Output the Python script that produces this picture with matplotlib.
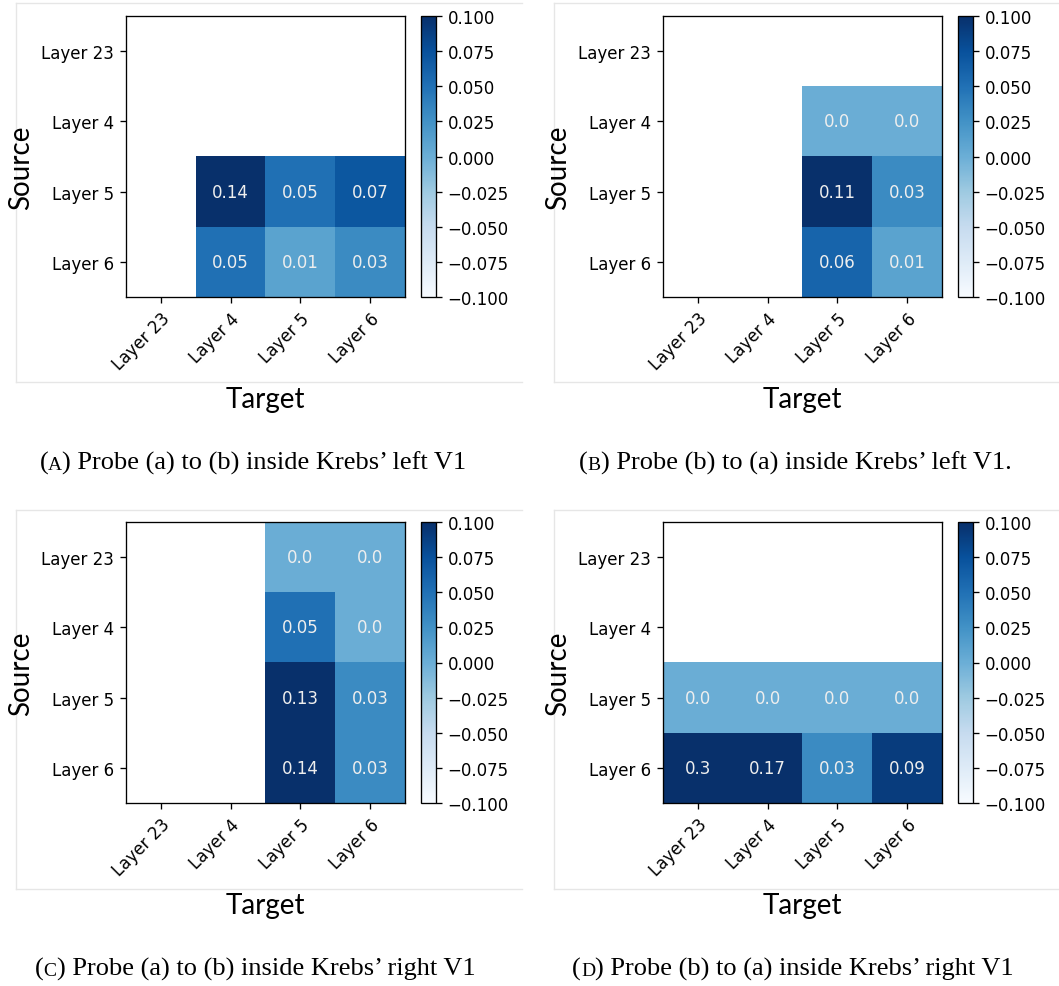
import numpy as np
import matplotlib
matplotlib.use("Agg")
import matplotlib.pyplot as plt
from matplotlib.lines import Line2D
from matplotlib.transforms import IdentityTransform

plt.rcParams["font.family"] = "DejaVu Sans"
plt.rcParams["axes.linewidth"] = 0.95

nan = np.nan

layers = ["Layer 23", "Layer 4", "Layer 5", "Layer 6"]

# rows = source layer, columns = target layer
left_a_to_b = [
    [nan, nan, nan, nan],
    [nan, nan, nan, nan],
    [nan, 0.14, 0.05, 0.07],
    [nan, 0.05, 0.01, 0.03],
]
left_b_to_a = [
    [nan, nan, nan, nan],
    [nan, nan, 0.0, 0.0],
    [nan, nan, 0.11, 0.03],
    [nan, nan, 0.06, 0.01],
]
right_a_to_b = [
    [nan, nan, 0.0, 0.0],
    [nan, nan, 0.05, 0.0],
    [nan, nan, 0.13, 0.03],
    [nan, nan, 0.14, 0.03],
]
right_b_to_a = [
    [nan, nan, nan, nan],
    [nan, nan, nan, nan],
    [0.0, 0.0, 0.0, 0.0],
    [0.3, 0.17, 0.03, 0.09],
]

panel_letters = ["A", "B", "C", "D"]
panel_captions = [
    ") Probe (a) to (b) inside Krebs\u2019 left V1",
    ") Probe (b) to (a) inside Krebs\u2019 left V1.",
    ") Probe (a) to (b) inside Krebs\u2019 right V1",
    ") Probe (b) to (a) inside Krebs\u2019 right V1",
]
cbar_ticks = [-0.1, -0.075, -0.05, -0.025, 0.0, 0.025, 0.05, 0.075, 0.1]

W, H = 1059, 987


def box(x0, y0, x1, y1):
    # pixel box (top-left origin) -> figure fraction rect
    return [x0 / W, 1 - y1 / H, (x1 - x0) / W, (y1 - y0) / H]


def frame_lines(fig, x0, y0, x1, y1):
    color = "#e6e6e6"
    segs = [((x0, x1), (y0, y0)), ((x0, x0), (y0, y1)), ((x0, x1), (y1, y1))]
    for xs, ys in segs:
        fig.add_artist(Line2D([x / W for x in xs], [1 - y / H for y in ys],
                              color=color, lw=1.0))


def draw_panel(fig, data, dx, dy):
    data = np.array(data, dtype=float)
    ax = fig.add_axes(box(126 + dx, 17 + dy, 405 + dx, 298 + dy))
    im = ax.imshow(data, cmap="Blues", vmin=-0.1, vmax=0.1, aspect="auto")
    for i in range(data.shape[0]):
        for j in range(data.shape[1]):
            v = data[i, j]
            if np.isnan(v):
                continue
            ax.text(j, i, str(round(v, 2)), ha="center", va="center",
                    color="#eeeeee", fontsize=12)
    ax.set_xticks(range(len(layers)), labels=layers, rotation=45,
                  ha="right", rotation_mode="anchor")
    ax.set_yticks(range(len(layers)), labels=layers)
    ax.tick_params(labelsize=12, length=4.3, width=0.95, pad=4.5)

    cax = fig.add_axes(box(420.5 + dx, 17 + dy, 435.5 + dx, 298 + dy))
    cb = fig.colorbar(im, cax=cax, ticks=cbar_ticks)
    cb.outline.set_linewidth(0.95)
    cb.ax.tick_params(labelsize=12, length=4.3, width=0.95, pad=4.5)

    fig.text((21 + dx) / W, 1 - (168 + dy) / H, "Source", rotation=90,
             ha="center", va="center", fontsize=20, family="Lato")
    fig.text((265.5 + dx) / W, 1 - (400 + dy) / H, "Target",
             ha="center", va="center", fontsize=20, family="Lato")


def caption(fig, cx, baseline, letter, rest):
    renderer = fig.canvas.get_renderer()
    pieces = [("(", 19), (letter, 14), (rest, 19)]
    texts = []
    for s, fs in pieces:
        t = fig.text(0, H - baseline, s, fontsize=fs, family="Liberation Serif",
                     va="baseline", transform=IdentityTransform())
        texts.append(t)
    widths = [t.get_window_extent(renderer).width for t in texts]
    x = cx - sum(widths) / 2
    for t, w in zip(texts, widths):
        t.set_x(x)
        x += w


def main():
    fig = plt.figure(figsize=(W / 100, H / 100), dpi=100)
    panels = [left_a_to_b, left_b_to_a, right_a_to_b, right_b_to_a]
    offsets = [(0, 0), (537, 0), (0, 506), (537, 506)]
    frames = [(16, 4, 522, 383), (554, 4, 1059, 383),
              (16, 511, 522, 890), (554, 511, 1059, 890)]
    caption_pos = [(253, 470), (795, 470), (255, 976), (793, 976)]

    for data, (dx, dy), fr in zip(panels, offsets, frames):
        frame_lines(fig, *fr)
        draw_panel(fig, data, dx, dy)

    for (cx, by), letter, rest in zip(caption_pos, panel_letters, panel_captions):
        caption(fig, cx, by, letter, rest)

    fig.savefig("out.png", dpi=100)
    plt.close(fig)


if __name__ == "__main__":
    main()
